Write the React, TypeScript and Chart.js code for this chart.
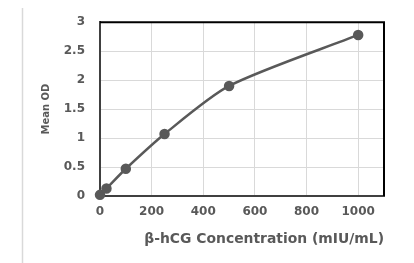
import React, { useEffect, useRef } from "react";
import { Chart, registerables } from "chart.js";

Chart.register(...registerables);

const concentrations = [0, 25, 100, 250, 500, 1000];
const meanOD = [0.02, 0.13, 0.47, 1.07, 1.9, 2.78];
const xTickValues = [0, 200, 400, 600, 800, 1000];
const yTickValues = [0, 0.5, 1, 1.5, 2, 2.5, 3];
const xTitle = "β-hCG Concentration (mIU/mL)";
const yTitle = "Mean OD";

const FONT = "'DejaVu Sans', Verdana, sans-serif";

const frame = {
  id: "frame",
  beforeDraw(chart: any) {
    const { ctx, width, height } = chart;
    ctx.save();
    ctx.fillStyle = "#ffffff";
    ctx.fillRect(0, 0, width, height);
    ctx.strokeStyle = "#d9d9d9";
    ctx.lineWidth = 1.5;
    ctx.strokeRect(22.5, 5.5, width - 25, height + 20);
    ctx.restore();
  },
  afterDraw(chart: any) {
    const { ctx, chartArea } = chart;
    ctx.save();
    ctx.strokeStyle = "#000000";
    ctx.lineWidth = 2;
    ctx.beginPath();
    ctx.moveTo(chartArea.left, chartArea.top);
    ctx.lineTo(chartArea.right, chartArea.top);
    ctx.lineTo(chartArea.right, chartArea.bottom);
    ctx.stroke();
    ctx.restore();
  },
};

export default function App() {
  const ref = useRef<HTMLCanvasElement>(null);
  useEffect(() => {
    if (!ref.current) return;
    const font = { family: FONT, weight: "bold" as const, size: 12 };
    const chart = new Chart(ref.current, {
      type: "line",
      data: {
        datasets: [
          {
            data: concentrations.map((x, i) => ({ x, y: meanOD[i] })),
            borderColor: "#595959",
            backgroundColor: "#595959",
            borderWidth: 2.5,
            pointRadius: 4,
            pointBackgroundColor: "#595959",
            pointBorderColor: "#595959",
            tension: 0.25,
            clip: false,
          },
        ],
      },
      options: {
        animation: false,
        responsive: false,
        devicePixelRatio: 1,
        layout: { padding: { top: 22, right: 30, left: 0, bottom: 0 } },
        plugins: { legend: { display: false }, tooltip: { enabled: false } },
        scales: {
          x: {
            type: "linear",
            min: 0,
            max: 1100,
            ticks: { color: "#595959", font, padding: 9, callback: (v: any) => String(v) },
            afterBuildTicks: (s: any) => {
              s.ticks = xTickValues.map((v) => ({ value: v }));
            },
            afterFit: (s: any) => {
              s.height = 67;
            },
            grid: { color: "#d9d9d9", lineWidth: 1, drawTicks: false },
            border: { color: "#404040", width: 2 },
            title: {
              display: true,
              text: xTitle,
              align: "end",
              color: "#595959",
              font: { family: FONT, weight: "bold", size: 13.9 },
              padding: { top: 0, bottom: 15 },
            },
          },
          y: {
            min: 0,
            max: 3,
            ticks: {
              color: "#595959",
              font,
              padding: 15,
              callback: (v: any) => String(v),
            },
            afterBuildTicks: (s: any) => {
              s.ticks = yTickValues.map((v) => ({ value: v }));
            },
            afterFit: (s: any) => {
              s.width = 100;
            },
            grid: { color: "#d9d9d9", lineWidth: 1, drawTicks: false },
            border: { color: "#404040", width: 2 },
            title: {
              display: true,
              text: yTitle,
              color: "#595959",
              font: { family: FONT, weight: "bold", size: 10 },
              padding: { top: 40, bottom: 0 },
            },
          },
        },
      },
      plugins: [frame],
    });
    return () => chart.destroy();
  }, []);

  return (
    <div style={{ position: "relative", width: 414, height: 263, margin: "-8px 0 0 -8px", overflow: "hidden" }}>
      <canvas ref={ref} width={414} height={263} style={{ position: "absolute", left: 0, top: 0, width: 414, height: 263 }} />
    </div>
  );
}
